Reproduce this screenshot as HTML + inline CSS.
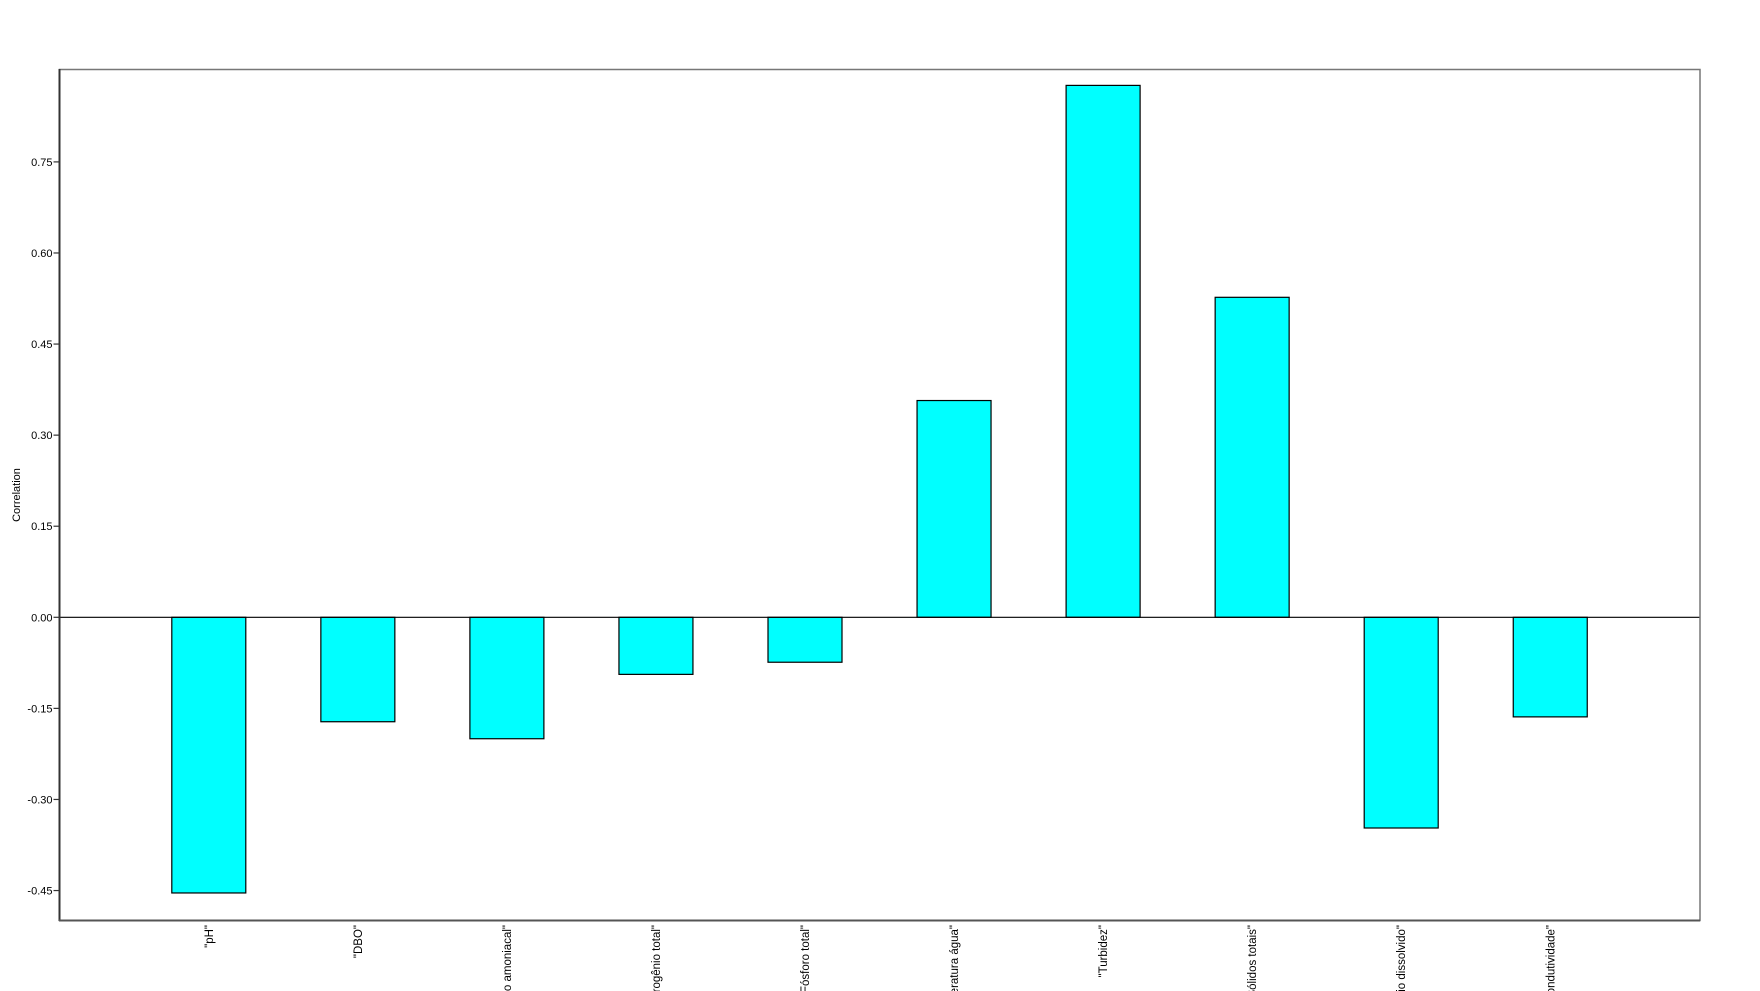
<!DOCTYPE html>
<html><head><meta charset="utf-8"><style>
html,body{margin:0;padding:0;background:#fff;overflow:hidden;width:1760px;height:991px;}
svg{display:block;font-family:"Liberation Sans","DejaVu Sans",sans-serif;}
</style></head><body>
<svg id="chart" width="1760" height="991" viewBox="0 0 1760 991">
<text x="20" y="495" transform="rotate(-90 20 495)" text-anchor="middle" font-size="11" fill="#000">Correlation</text>
<g id="ticks"></g>
<g id="bars"></g>
<g id="xlabels"></g>
<rect x="59.5" y="69.5" width="1640.5" height="851" fill="none" stroke="#777" stroke-width="1.5"/>
<line x1="59.5" y1="69" x2="59.5" y2="921" stroke="#333" stroke-width="2"/>
<line x1="59" y1="920.5" x2="1700" y2="920.5" stroke="#555" stroke-width="2"/>
</svg>
<script>
const categories = ['"pH"','"DBO"','"Nitrogênio amoniacal"','"Nitrogênio total"','"Fósforo total"','"Temperatura água"','"Turbidez"','"Sólidos totais"','"Oxigênio dissolvido"','"Condutividade"'];
const values = [-0.454,-0.172,-0.200,-0.094,-0.074,0.357,0.876,0.527,-0.347,-0.164];
const tickValues = [0.75,0.60,0.45,0.30,0.15,0.00,-0.15,-0.30,-0.45];
const tickLabels = ["0.75","0.60","0.45","0.30","0.15","0.00","-0.15","-0.30","-0.45"];

const NS = "http://www.w3.org/2000/svg";
const left = 59.5, right = 1700, zeroY = 617.3, pxPerUnit = 607.2;
const firstX = 208.8, step = 149.05, barW = 74;
function y(v){ return zeroY - v * pxPerUnit; }
function x(i){ return firstX + i * step; }

const tg = document.getElementById('ticks');
tickValues.forEach((v,i)=>{
  const l = document.createElementNS(NS,'line');
  l.setAttribute('x1',left-6); l.setAttribute('x2',left); l.setAttribute('y1',y(v)); l.setAttribute('y2',y(v));
  l.setAttribute('stroke','#333'); l.setAttribute('stroke-width','1.2');
  
  
  tg.appendChild(l);
  const t = document.createElementNS(NS,'text');
  t.setAttribute('x',left-7); t.setAttribute('y',y(v)+4); t.setAttribute('text-anchor','end');
  t.setAttribute('font-size','11'); t.textContent = tickLabels[i];
  
  
  tg.appendChild(t);
});

const bg = document.getElementById('bars');
values.forEach((v,i)=>{
  const r = document.createElementNS(NS,'rect');
  const top = Math.min(y(v), zeroY), h = Math.abs(y(v)-zeroY);
  r.setAttribute('x', x(i)-barW/2); r.setAttribute('y', top);
  r.setAttribute('width', barW); r.setAttribute('height', h);
  r.setAttribute('fill','#00ffff'); r.setAttribute('stroke','#000'); r.setAttribute('stroke-width','1.2');
  
  
  bg.appendChild(r);
});
const zl = document.createElementNS(NS,'line');
zl.setAttribute('x1',left); zl.setAttribute('x2',right); zl.setAttribute('y1',zeroY); zl.setAttribute('y2',zeroY);
zl.setAttribute('stroke','#000'); zl.setAttribute('stroke-width','1.2');


bg.appendChild(zl);

const xg = document.getElementById('xlabels');
categories.forEach((c,i)=>{
  const t = document.createElementNS(NS,'text');
  const tx = x(i)+4, ty = 925;
  t.setAttribute('x',tx); t.setAttribute('y',ty);
  t.setAttribute('transform','rotate(-90 '+tx+' '+ty+')');
  t.setAttribute('text-anchor','end'); t.setAttribute('font-size','11.5');
  t.textContent = c;
  
  
  xg.appendChild(t);
});
</script>
</body></html>
